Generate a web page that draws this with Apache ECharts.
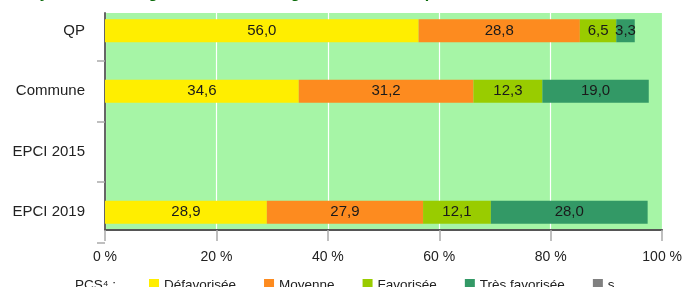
<!DOCTYPE html>
<html>
<head>
<meta charset="utf-8">
<script src="https://cdn.jsdelivr.net/npm/echarts@6/dist/echarts.min.js"></script>
<style>
  html, body { margin: 0; padding: 0; background: #fff; }
  #chart_pcs { width: 685px; height: 287px; }
</style>
</head>
<body>
<div id="chart_pcs"></div>
<script>
var categories = ['QP', 'Commune', 'EPCI 2015', 'EPCI 2019'];
var seriesNames = ['Défavorisée', 'Moyenne', 'Favorisée', 'Très favorisée', 's'];
var seriesColors = ['#ffee00', '#fd8b1f', '#99cc00', '#339966', '#808080'];
var defavorisee = [56.0, 34.6, null, 28.9];
var moyenne = [28.8, 31.2, null, 27.9];
var favorisee = [6.5, 12.3, null, 12.1];
var tresFavorisee = [3.3, 19.0, null, 28.0];
var secret = [null, null, null, null];
var xTicks = [0, 20, 40, 60, 80, 100];

var values = [defavorisee, moyenne, favorisee, tresFavorisee, secret];
var font = 'Liberation Sans, Arial, sans-serif';

var myChart_pcs = echarts.init(document.getElementById('chart_pcs'));

var series_pcs = seriesNames.map(function (name, i) {
    return {
        name: name,
        type: 'bar',
        stack: 'total',
        xAxisIndex: 1,
        yAxisIndex: 1,
        barWidth: 23,
        itemStyle: { color: seriesColors[i] },
        label: {
            show: true,
            position: 'inside',
            color: '#1a1a1a',
            fontFamily: font,
            fontSize: 15,
            formatter: function (p) {
                return p.value == null ? '' : p.value.toFixed(1).replace('.', ',');
            }
        },
        data: values[i]
    };
});

var option_pcs = {
    animation: false,
    title: [
        {
            text: 'Analyses des collégiens selon la catégorie sociale des parents',
            left: 5,
            top: -14,
            padding: 0,
            textStyle: { color: '#0a6b0a', fontFamily: font, fontSize: 16, fontWeight: 'bold' }
        },
        {
            text: 'PCS⁴ :',
            left: 75,
            top: 278,
            padding: 0,
            textStyle: { color: '#222', fontFamily: font, fontSize: 13.5, fontWeight: 'normal' }
        }
    ],
    legend: {
        data: seriesNames,
        left: 149,
        top: 278,
        padding: 0,
        itemWidth: 10,
        itemHeight: 12,
        itemGap: 28,
        icon: 'rect',
        textStyle: { color: '#222', fontFamily: font, fontSize: 13.5 }
    },
    grid: [
        { left: 105, right: 20, top: 13, height: 217, show: true,
          backgroundColor: '#a6f5a6', borderWidth: 0 },
        { left: 105, right: 20, top: 0.5, height: 242 }
    ],
    xAxis: [
        {
            gridIndex: 0,
            type: 'value',
            min: xTicks[0],
            max: xTicks[xTicks.length - 1],
            interval: 20,
            axisLine: { show: true, lineStyle: { color: '#555', width: 2 } },
            axisTick: { show: true, length: 11, lineStyle: { color: '#aaa', width: 1.5 } },
            splitLine: { show: true, lineStyle: { color: '#ffffff', width: 1.2 } },
            axisLabel: { formatter: '{value} %', color: '#222', fontFamily: font, fontSize: 14, margin: 20 }
        },
        {
            gridIndex: 1,
            type: 'value',
            min: 0,
            max: 100,
            show: false
        }
    ],
    yAxis: [
        {
            gridIndex: 0,
            type: 'value',
            axisLine: { show: true, lineStyle: { color: '#666', width: 2 } },
            axisTick: { show: false },
            axisLabel: { show: false },
            splitLine: { show: false }
        },
        {
            gridIndex: 1,
            type: 'category',
            inverse: true,
            data: categories,
            axisLine: { show: false },
            axisTick: {
                show: true,
                length: 8,
                interval: function (i) { return i > 0; },
                lineStyle: { color: '#aaa', width: 1.5 }
            },
            axisLabel: { color: '#222', fontFamily: font, fontSize: 15, margin: 20 }
        }
    ],
    series: series_pcs
};

myChart_pcs.setOption(option_pcs);
</script>
</body>
</html>
